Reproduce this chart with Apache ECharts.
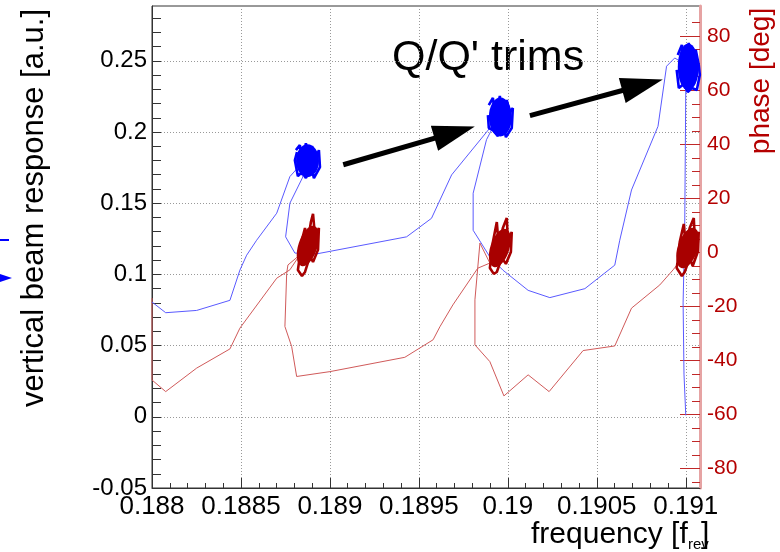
<!DOCTYPE html>
<html><head><meta charset="utf-8">
<script src="https://cdn.jsdelivr.net/npm/echarts@6/dist/echarts.min.js"></script>
<style>html,body{margin:0;padding:0;background:#fff}#c{width:780px;height:552px}</style>
</head><body><div id="c"></div>
<script>
// ---- tick values / labels ----
const xTicks = [0.188, 0.1885, 0.189, 0.1895, 0.19, 0.1905, 0.191];
const xTickLabels = ['0.188','0.1885','0.189','0.1895','0.19','0.1905','0.191'];
const yTicks = [-0.05, 0, 0.05, 0.1, 0.15, 0.2, 0.25];
const yTickLabels = ['-0.05','0','0.05','0.1','0.15','0.2','0.25'];
const phaseTicks = [-80,-60,-40,-20,0,20,40,60,80];
const phaseTickLabels = ['-80','-60','-40','-20','0','20','40','60','80'];

// ---- sweep traces: [frequency, value] ----
const responseLine = [
 [0.188000,0.0806],[0.188077,0.0731],[0.188251,0.0747],[0.188438,0.0818],[0.188494,0.1030],[0.188532,0.1135],
 [0.188588,0.1240],[0.188701,0.1430],[0.188775,0.1687],[0.188820,0.1750],
 [0.188848,0.1685],[0.188775,0.1500],[0.188751,0.1264],[0.188803,0.1150],[0.188916,0.1142],[0.189431,0.1264],
 [0.189571,0.1394],[0.189684,0.1699],[0.189899,0.2028],[0.189940,0.2090],
 [0.189880,0.1946],[0.189805,0.1570],[0.189805,0.1310],[0.189899,0.1123],[0.189972,0.1030],[0.190114,0.0888],
 [0.190236,0.0837],[0.190433,0.0900],[0.190601,0.1065],[0.190629,0.1240],[0.190695,0.1593],[0.190844,0.2040],
 [0.190892,0.2462],[0.190938,0.2520],[0.190990,0.2480],
 [0.191000,0.2299],[0.190994,0.1300],[0.190985,0.0800],[0.190990,0.0300],[0.191000,0.0010]
];
const phaseLine = [
 [0.188000,-17.0],[0.188000,-47.3],[0.188077,-51.6],[0.188251,-42.9],[0.188438,-35.8],[0.188494,-28.1],
 [0.188701,-9.6],[0.188775,-6.5],[0.188831,-1.0],
 [0.188764,-4.7],[0.188757,-7.8],[0.188747,-27.5],[0.188785,-34.9],[0.188813,-46.0],[0.189000,-44.2],
 [0.189421,-38.9],[0.189580,-32.4],[0.189618,-27.6],[0.189691,-19.5],[0.189831,-5.9],[0.189899,-4.0],
 [0.189843,3.4],[0.189815,-17.6],[0.189815,-34.3],[0.189899,-40.5],[0.189978,-53.2],[0.190114,-45.4],
 [0.190232,-51.6],[0.190423,-36.4],[0.190601,-34.7],[0.190695,-20.7],[0.190854,-12.1],[0.190929,-6.5],[0.190994,-1.0]
];

// ---- noisy working-point clusters ----
const responseBlob1 = [[0.188809,0.1873],[0.188831,0.1908],[0.188848,0.1788],[0.188865,0.1922],[0.188882,0.1732],[0.188899,0.1901],
 [0.188921,0.1816],[0.188938,0.1873],[0.188944,0.1753],[0.188910,0.1676],[0.188893,0.1767],[0.188865,0.1676],[0.188843,0.1718],
 [0.188820,0.1690],[0.188803,0.1802],[0.188815,0.1859]];
const responseBlob2 = [[0.189893,0.2189],[0.189916,0.2239],[0.189933,0.2084],[0.189955,0.2253],[0.189972,0.2049],[0.189994,0.2225],
 [0.190011,0.2140],[0.190028,0.2168],[0.190022,0.2028],[0.189989,0.1964],[0.189972,0.2070],[0.189944,0.1971],[0.189916,0.2013],
 [0.189893,0.2028],[0.189888,0.2119]];
const responseBlob3 = [[0.190955,0.2541],[0.190978,0.2612],[0.190994,0.2436],[0.191017,0.2626],[0.191034,0.2365],[0.191056,0.2577],
 [0.191073,0.2471],[0.191079,0.2401],[0.191062,0.2295],[0.191034,0.2309],[0.191011,0.2281],[0.190989,0.2337],[0.190961,0.2309],
 [0.190949,0.2436]];
const phaseBlob1 = [[0.188826,-3.6],[0.188837,3.1],[0.188860,9.0],[0.188871,1.6],[0.188893,11.2],[0.188905,14.2],[0.188916,6.0],
 [0.188938,9.0],[0.188933,0.9],[0.188905,-3.6],[0.188888,-1.4],[0.188860,-7.3],[0.188843,-8.8],[0.188820,-6.6],[0.188831,-1.4]];
const phaseBlob2 = [[0.189904,-3.6],[0.189916,3.8],[0.189938,11.2],[0.189949,2.3],[0.189972,9.0],[0.189994,12.7],[0.190000,4.6],
 [0.190022,7.5],[0.190017,0.1],[0.189989,-4.3],[0.189966,-2.1],[0.189938,-7.3],[0.189921,-8.0],[0.189899,-5.8],[0.189910,-0.6]];
const phaseBlob3 = [[0.190955,-3.6],[0.190966,3.8],[0.190989,10.5],[0.191000,2.3],[0.191022,9.0],[0.191045,12.7],[0.191051,4.6],
 [0.191073,7.5],[0.191067,0.1],[0.191039,-5.1],[0.191022,-2.1],[0.190994,-7.3],[0.190978,-8.8],[0.190949,-5.8],[0.190961,-0.6]];
const responseBlobCenters = [[0.188874,0.1799],[0.189958,0.2105],[0.191014,0.2457]];
const phaseBlobCenters = [[0.188876,2.3],[0.189955,1.6],[0.191011,1.6]];

// ---- annotation arrows (data units of the response axis) ----
const arrowStarts = [[0.189075,0.1770],[0.190124,0.2115]];
const arrowEnds   = [[0.189701,0.1998],[0.190757,0.2330]];

// ---- axis ranges ----
const xRange = [0.188, 0.19108];
const yRange = [-0.05, 0.2885];
const phaseRange = [-87.3, 91.2];

const FONT = '"Liberation Sans", Arial, sans-serif';
const respColor = '#0000ff', phaseColor = '#a80000';

function lab(ticks, labels){ return function(v){ let bi=0, bd=1e9; ticks.forEach((t,i)=>{const d=Math.abs(t-v); if(d<bd){bd=d;bi=i;}}); return labels[bi]; }; }
function minorOf(start, step, count, majors){
  const out=[]; for(let i=0;i<=count;i++){ const v=+(start+i*step).toFixed(6); if(!majors.some(m=>Math.abs(m-v)<step/10)) out.push(v);} return out;
}
const xMinor = minorOf(0.188, 0.0001, 30, xTicks);
const yMinor = minorOf(-0.05, 0.01, 33, yTicks);
const phaseMinor = minorOf(-85, 5, 34, phaseTicks);

const chart = echarts.init(document.getElementById('c'), null, {renderer:'canvas'});
const axisDark = '#333';
const tickRed = '#c02828';

const blobLine = (data, color, yIdx) => ({type:'line', xAxisIndex:0, yAxisIndex:yIdx, data, symbol:'none', z:4,
  lineStyle:{color, width:2.6}, silent:true, clip:true});

chart.setOption({
  animation:false,
  backgroundColor:'#fff',
  grid:{left:152, right:80, top:6, bottom:64, show:true, borderColor:axisDark, borderWidth:1, containLabel:false, outerBoundsMode:'none'},
  xAxis:[
    {type:'value', position:'bottom', min:xRange[0], max:xRange[1],
     axisLine:{show:true, onZero:false, lineStyle:{color:axisDark}},
     axisTick:{show:true, inside:true, length:10, customValues:xTicks, lineStyle:{color:axisDark}},
     axisLabel:{show:true, customValues:xTicks, formatter:lab(xTicks,xTickLabels), fontSize:26, fontFamily:FONT, color:'#000', margin:6},
     splitLine:{show:true, lineStyle:{color:'#999', type:[1,2], width:1}}},
    {type:'value', position:'bottom', min:xRange[0], max:xRange[1],
     axisLine:{show:false, onZero:false}, axisTick:{show:true, inside:true, length:5, customValues:xMinor, lineStyle:{color:axisDark}},
     axisLabel:{show:false}, splitLine:{show:false}}
  ],
  yAxis:[
    {type:'value', position:'left', min:yRange[0], max:yRange[1],
     axisLine:{show:true, onZero:false, lineStyle:{color:axisDark}},
     axisTick:{show:true, inside:true, length:9, customValues:yTicks, lineStyle:{color:axisDark}},
     axisLabel:{show:true, customValues:yTicks, formatter:lab(yTicks,yTickLabels), fontSize:24, fontFamily:FONT, color:'#000', margin:5},
     splitLine:{show:true, lineStyle:{color:'#999', type:[1,2], width:1}}},
    {type:'value', position:'left', min:yRange[0], max:yRange[1],
     axisLine:{show:false, onZero:false}, axisTick:{show:true, inside:true, length:9, customValues:yMinor, lineStyle:{color:axisDark}},
     axisLabel:{show:false}, splitLine:{show:false}},
    {type:'value', position:'right', min:phaseRange[0], max:phaseRange[1],
     axisLine:{show:true, onZero:false, lineStyle:{color:'#e6a3a3', width:3}},
     axisTick:{show:true, inside:true, length:20, customValues:phaseTicks, lineStyle:{color:tickRed}},
     axisLabel:{show:true, customValues:phaseTicks, formatter:lab(phaseTicks,phaseTickLabels), fontSize:21, fontFamily:FONT, color:'#b40000', margin:7},
     splitLine:{show:false}},
    {type:'value', position:'right', min:phaseRange[0], max:phaseRange[1],
     axisLine:{show:false, onZero:false}, axisTick:{show:true, inside:true, length:8, customValues:phaseMinor, lineStyle:{color:tickRed}},
     axisLabel:{show:false}, splitLine:{show:false}}
  ],
  series:[
    {name:'phase', type:'line', xAxisIndex:0, yAxisIndex:2, data:phaseLine, symbol:'none', z:2, clip:true,
     lineStyle:{color:'#d05a5a', width:1}, silent:true},
    {name:'response', type:'line', xAxisIndex:0, yAxisIndex:0, data:responseLine, symbol:'none', z:2, clip:true,
     lineStyle:{color:'#5a5aff', width:1}, silent:true,
     markLine:{silent:true, animation:false, symbol:['none','triangle'], symbolSize:[26,42],
       lineStyle:{color:'#000', width:5, type:'solid'}, label:{show:false}, emphasis:{disabled:true},
       itemStyle:{color:'#000'},
       data: arrowStarts.map((s,i)=>[{coord:s},{coord:arrowEnds[i]}])}},
    {type:'scatter', xAxisIndex:0, yAxisIndex:0, data:responseBlobCenters, z:4, silent:true,
     symbol:'circle', symbolSize:(v,p)=>[[23,33],[23,39],[21,47]][p.dataIndex], itemStyle:{color:respColor, opacity:1}},
    {type:'scatter', xAxisIndex:0, yAxisIndex:2, data:phaseBlobCenters, z:4, silent:true,
     symbol:'circle', symbolRotate:-18, symbolSize:(v,p)=>[[19,42],[19,40],[20,42]][p.dataIndex], itemStyle:{color:phaseColor, opacity:1}},
    blobLine(responseBlob1, respColor, 0),
    blobLine(responseBlob2, respColor, 0),
    blobLine(responseBlob3, respColor, 0),
    blobLine(phaseBlob1, phaseColor, 2),
    blobLine(phaseBlob2, phaseColor, 2),
    blobLine(phaseBlob3, phaseColor, 2)
  ],
  graphic:[
    {type:'text', x:34, y:208, rotation:Math.PI/2, silent:true,
     style:{text:'vertical beam response [a.u.]', font:'31px '+FONT, fill:'#000', align:'center', verticalAlign:'middle'}},
    {type:'text', x:761, y:81, rotation:Math.PI/2, silent:true,
     style:{text:'phase [deg]', font:'28px '+FONT, fill:'#b40000', align:'center', verticalAlign:'middle'}},
    {type:'text', x:531, y:535, silent:true,
     style:{text:'frequency [f', font:'30px '+FONT, fill:'#000', align:'left', verticalAlign:'middle'}},
    {type:'text', x:688, y:545, silent:true,
     style:{text:'rev', font:'15px '+FONT, fill:'#000', align:'left', verticalAlign:'middle'}},
    {type:'text', x:701, y:535, silent:true,
     style:{text:']', font:'30px '+FONT, fill:'#000', align:'left', verticalAlign:'middle'}},
    {type:'text', x:392, y:58, silent:true,
     style:{text:"Q/Q' trims", font:'43px '+FONT, fill:'#000', align:'left', verticalAlign:'middle'}},
    {type:'rect', silent:true, shape:{x:0, y:239, width:9, height:2}, style:{fill:'#0000ff'}},
    {type:'polygon', silent:true, shape:{points:[[0,274],[12,278],[0,282]]}, style:{fill:'#0000ff'}}
  ]
});
</script>
</body></html>
